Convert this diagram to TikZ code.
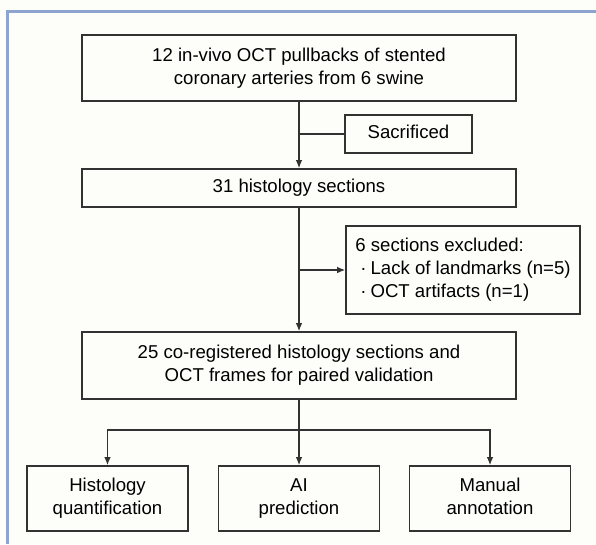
\documentclass[tikz,border=0pt]{standalone}
\usepackage{fontspec}
\setmainfont{Liberation Sans}
\usetikzlibrary{arrows.meta}
\definecolor{bgc}{RGB}{253,253,250}
\definecolor{framec}{RGB}{141,165,206}
\definecolor{boxc}{RGB}{50,50,50}
\tikzset{
  flowbox/.style={draw=boxc, line width=1.6pt, rectangle, inner sep=0pt, align=center,
    font=\fontsize{18.6}{23}\selectfont, text=black},
  conn/.style={draw=boxc, line width=1.3pt},
  arr/.style={conn, -{Latex[length=8pt,width=6.5pt]}}
}
\begin{document}
\begin{tikzpicture}[x=1pt,y=-1pt]
\useasboundingbox (0,0) rectangle (596,544);
\fill[bgc] (0,0) rectangle (596,544);
\draw[framec, line width=2.4pt] (7.5,544) -- (7.5,11.5) -- (596,11.5);

\node[flowbox, minimum width=434pt, minimum height=66pt] (top) at (299,68)
  {\strut 12 in-vivo OCT pullbacks of stented\\coronary arteries from 6 swine\strut};
\node[flowbox, minimum width=127pt, minimum height=38pt] (sac) at (408.5,134) {\strut Sacrificed};
\node[flowbox, minimum width=434pt, minimum height=38pt] (hist) at (299,188) {\strut 31 histology sections};
\node[flowbox, minimum width=234pt, minimum height=88pt, align=left] (excl) at (463,270)
  {\strut 6 sections excluded:\\\hspace*{5pt}·\hspace*{4pt}Lack of landmarks (n=5)\\\hspace*{5pt}·\hspace*{4pt}OCT artifacts (n=1)\strut};
\node[flowbox, minimum width=434pt, minimum height=67pt] (main) at (299,365.5)
  {\strut 25 co-registered histology sections and\\OCT frames for paired validation\strut};
\node[flowbox, minimum width=161pt, minimum height=65pt] (hq) at (107.5,498.5) {\strut Histology\\quantification\strut};
\node[flowbox, minimum width=161pt, minimum height=65pt] (ai) at (299,498.5) {\strut AI\\prediction\strut};
\node[flowbox, minimum width=161pt, minimum height=65pt] (ma) at (490,498.5) {\strut Manual\\annotation\strut};

\coordinate (sj) at (299,134);
\coordinate (br) at (299,430);

\draw[arr] (top.south) -- (hist.north);
\draw[conn] (sj) -- (sac.west);
\draw[arr] (hist.south) -- (main.north);
\draw[arr] (hist.south |- excl.west) -- (excl.west);
\draw[arr] (main.south) -- (ai.north);
\draw[arr] (br) -| (hq.north);
\draw[arr] (br) -| (ma.north);
\end{tikzpicture}
\end{document}
